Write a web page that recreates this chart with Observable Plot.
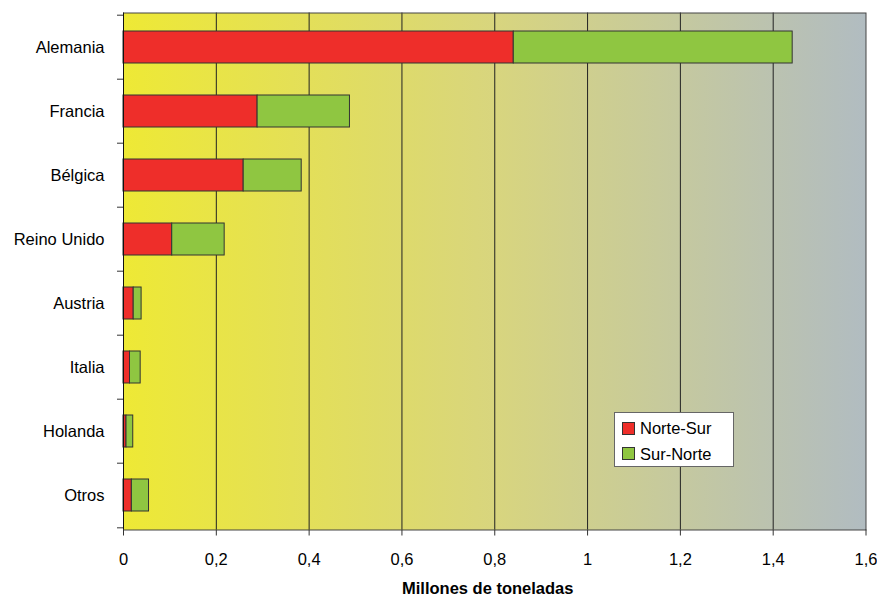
<!DOCTYPE html>
<html>
<head>
<meta charset="utf-8">
<script src="https://cdn.jsdelivr.net/npm/d3@7"></script>
<script src="https://cdn.jsdelivr.net/npm/@observablehq/plot@0.6"></script>
<style>
  html, body { margin: 0; padding: 0; background: #fff; }
  #wrap { position: relative; width: 877px; height: 596px; font-family: "Liberation Sans", Arial, sans-serif; }
  #legend { position: absolute; left: 614px; top: 412px; width: 118px; height: 53px; background: #fff; border: 1px solid #666; font-size: 16.5px; color: #000; }
  .item { position: absolute; left: 7px; height: 16px; line-height: 16px; display: flex; align-items: center; }
  .sw { width: 11px; height: 11px; border: 1px solid #333; margin-right: 5px; }
</style>
</head>
<body>
<div id="wrap"></div>
<script>
const paises = ["Alemania", "Francia", "Bélgica", "Reino Unido", "Austria", "Italia", "Holanda", "Otros"];
const series = ["Norte-Sur", "Sur-Norte"];
const norteSur = [0.841, 0.289, 0.259, 0.105, 0.022, 0.014, 0.0065, 0.018];
const surNorte = [0.601, 0.199, 0.125, 0.113, 0.017, 0.023, 0.0145, 0.037];
const xTicks = [0, 0.2, 0.4, 0.6, 0.8, 1, 1.2, 1.4, 1.6];
const gridTicks = [0.2, 0.4, 0.6, 0.8, 1, 1.2, 1.4];
const colores = ["#ee2e2a", "#8fc641"];
const xLabel = "Millones de toneladas";

const data = [];
paises.forEach((p, i) => {
  data.push({pais: p, serie: series[0], valor: norteSur[i]});
  data.push({pais: p, serie: series[1], valor: surNorte[i]});
});

const W = 877, H = 596, mT = 12.5, mB = 66.5, mL = 123, mR = 11.5;
const step = (H - mT - mB) / paises.length;
const fmt = d => String(d).replace(".", ",");

const gradient = () => {
  const defs = d3.create("svg:defs");
  const g = defs.append("linearGradient").attr("id", "bg").attr("x1", "0").attr("x2", "1").attr("y1", "0").attr("y2", "0");
  g.append("stop").attr("offset", "0").attr("stop-color", "#eee935");
  g.append("stop").attr("offset", "0.5").attr("stop-color", "#d8d57e");
  g.append("stop").attr("offset", "1").attr("stop-color", "#b1bcc1");
  return defs.node();
};

const chart = Plot.plot({
  width: W, height: H,
  marginTop: mT, marginBottom: mB, marginLeft: mL, marginRight: mR,
  style: {fontFamily: "Liberation Sans, Arial, sans-serif", fontSize: "16.5px", color: "#000", background: "#fff"},
  x: {domain: [0, 1.6], label: null},
  y: {domain: paises, paddingInner: 0.5, paddingOuter: 0.25, label: null},
  color: {domain: series, range: colores},
  marks: [
    gradient,
    Plot.frame({fill: "url(#bg)"}),
    Plot.ruleX(gridTicks, {stroke: "#222", strokeWidth: 1}),
    Plot.barX(data, {y: "pais", x: "valor", fill: "serie", stroke: "#333", strokeWidth: 1, order: series}),
    Plot.frame({stroke: "#444", strokeWidth: 1}),
    Plot.ruleX([0], {stroke: "#111", strokeWidth: 1}),
    Plot.axisX(xTicks, {tickSize: 6, tickPadding: 17, tickFormat: fmt, label: null, stroke: "#333"}),
    Plot.axisY({tickSize: 0, tickPadding: 19, label: null}),
    Plot.axisY(paises, {tickSize: 6, tickFormat: () => "", dy: -step / 2, label: null, stroke: "#333"}),
    Plot.axisY(["Otros"], {tickSize: 6, tickFormat: () => "", dy: step / 2, label: null, stroke: "#333"}),
    Plot.text([xLabel], {frameAnchor: "bottom", dy: 63.5, dx: -7, fontWeight: "bold", fontSize: 16.5, fill: "#000"})
  ]
});

const wrap = document.getElementById("wrap");
wrap.appendChild(chart);
const legend = document.createElement("div");
legend.id = "legend";
series.forEach((s, i) => {
  const it = document.createElement("div");
  it.className = "item";
  it.style.top = (7 + i * 25.5) + "px";
  const sw = document.createElement("div");
  sw.className = "sw";
  sw.style.background = colores[i];
  const t = document.createElement("span");
  t.textContent = s;
  it.appendChild(sw); it.appendChild(t);
  legend.appendChild(it);
});
wrap.appendChild(legend);
</script>
</body>
</html>
